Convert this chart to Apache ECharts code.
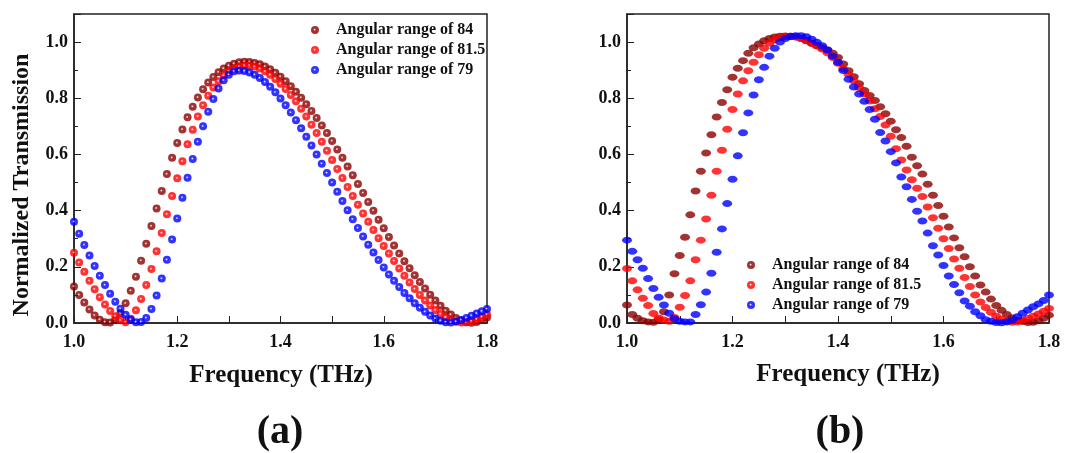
<!DOCTYPE html>
<html>
<head>
<meta charset="utf-8">
<script src="https://cdn.jsdelivr.net/npm/echarts@6/dist/echarts.min.js"></script>
<style>
  html, body { margin: 0; padding: 0; background: #fff; }
  #main { width: 1069px; height: 453px; }
</style>
</head>
<body>
<div id="main"></div>
<script>
// frequency grid (THz)
var freq = [1.00, 1.01, 1.02, 1.03, 1.04, 1.05, 1.06, 1.07, 1.08, 1.09,
  1.10, 1.11, 1.12, 1.13, 1.14, 1.15, 1.16, 1.17, 1.18, 1.19,
  1.20, 1.21, 1.22, 1.23, 1.24, 1.25, 1.26, 1.27, 1.28, 1.29,
  1.30, 1.31, 1.32, 1.33, 1.34, 1.35, 1.36, 1.37, 1.38, 1.39,
  1.40, 1.41, 1.42, 1.43, 1.44, 1.45, 1.46, 1.47, 1.48, 1.49,
  1.50, 1.51, 1.52, 1.53, 1.54, 1.55, 1.56, 1.57, 1.58, 1.59,
  1.60, 1.61, 1.62, 1.63, 1.64, 1.65, 1.66, 1.67, 1.68, 1.69,
  1.70, 1.71, 1.72, 1.73, 1.74, 1.75, 1.76, 1.77, 1.78, 1.79, 1.80];

var names = ["Angular range of 84", "Angular range of 81.5", "Angular range of 79"];

// panel (a)
var a84 = [.130, .100, .073, .048, .027, .012, .003, .002, .012, .035,
  .070, .115, .165, .222, .282, .345, .408, .470, .530, .588,
  .641, .689, .732, .770, .803, .832, .856, .876, .893, .906,
  .916, .923, .928, .930, .929, .926, .921, .913, .903, .891,
  .877, .861, .843, .823, .802, .779, .755, .730, .703, .676,
  .648, .618, .588, .557, .526, .495, .463, .431, .400, .368,
  .337, .306, .276, .247, .220, .195, .170, .146, .123, .101,
  .080, .061, .044, .030, .018, .009, .003, .001, .004, .011, .020];
var a81 = [.250, .215, .182, .150, .120, .092, .066, .043, .024, .010,
  .003, .015, .045, .085, .135, .192, .255, .320, .387, .452,
  .515, .576, .636, .688, .735, .775, .809, .838, .861, .880,
  .895, .906, .913, .917, .917, .913, .906, .896, .884, .869,
  .852, .833, .812, .789, .763, .735, .706, .676, .645, .613,
  .580, .548, .516, .484, .452, .421, .390, .360, .331, .302,
  .274, .247, .221, .194, .168, .144, .121, .100, .080, .062,
  .046, .032, .020, .011, .005, .002, .003, .007, .013, .021, .030];
var a79 = [.360, .318, .278, .240, .203, .168, .135, .104, .076, .051,
  .029, .012, .003, .004, .018, .050, .098, .158, .225, .297,
  .372, .446, .517, .584, .645, .700, .752, .797, .835, .864,
  .884, .896, .899, .897, .892, .884, .872, .858, .841, .821,
  .799, .775, .749, .722, .693, .663, .632, .600, .567, .534,
  .500, .467, .434, .401, .369, .338, .308, .279, .251, .224,
  .198, .173, .150, .128, .107, .088, .070, .054, .040, .027,
  .016, .008, .003, .002, .005, .011, .018, .026, .034, .042, .050];

// panel (b)
var b84 = [.064, .030, .017, .008, .004, .003, .012, .040, .100, .175,
  .240, .305, .385, .470, .540, .605, .670, .733, .785, .830,
  .875, .907, .934, .960, .980, .993, 1.005, 1.013, 1.018, 1.021,
  1.022, 1.021, 1.018, 1.013, 1.005, .996, .988, .980, .972, .960,
  .945, .922, .898, .877, .852, .828, .810, .792, .770, .745,
  .718, .688, .660, .629, .590, .560, .530, .494, .455, .418,
  .380, .342, .303, .268, .236, .200, .167, .135, .110, .085,
  .062, .045, .030, .018, .010, .005, .002, .003, .008, .017, .028];
var b81 = [.194, .150, .118, .088, .062, .034, .018, .011, .006, .020,
  .056, .098, .150, .225, .295, .370, .455, .540, .615, .690,
  .760, .815, .862, .898, .928, .955, .978, .996, 1.008, 1.015,
  1.020, 1.021, 1.019, 1.014, 1.006, .996, .986, .975, .962, .945,
  .925, .905, .885, .862, .838, .815, .790, .763, .735, .705,
  .665, .620, .580, .545, .510, .480, .450, .413, .375, .337,
  .300, .265, .228, .195, .162, .130, .100, .075, .055, .038,
  .024, .013, .006, .003, .004, .010, .016, .024, .032, .042, .052];
var b79 = [.295, .255, .225, .195, .158, .123, .092, .064, .035, .015,
  .006, .004, .004, .030, .065, .110, .177, .252, .335, .425,
  .512, .595, .677, .748, .812, .866, .910, .950, .978, 1.000,
  1.013, 1.020, 1.023, 1.023, 1.019, 1.010, .999, .987, .972, .950,
  .928, .899, .868, .840, .815, .789, .760, .725, .678, .648,
  .610, .570, .520, .485, .440, .398, .363, .320, .275, .242,
  .205, .167, .137, .108, .078, .060, .040, .026, .012, .006,
  .002, .001, .004, .010, .022, .035, .046, .058, .068, .080, .100];

var colors = ["#8b0000", "#ff0000", "#0000ff"];
var serif = "Liberation Serif";

function pairs(ys) {
  return freq.map(function (f, i) { return [f, ys[i]]; });
}

function ball(c) {
  return {
    type: "radial", x: 0.45, y: 0.45, r: 0.6,
    colorStops: [
      { offset: 0, color: "#ffffff" },
      { offset: 0.3, color: c },
      { offset: 1, color: c }
    ]
  };
}

function xAx(idx) {
  return {
    gridIndex: idx,
    type: "value",
    min: 1.0,
    max: 1.8,
    interval: 0.2,
    axisLine: { lineStyle: { color: "#222", width: 1.5 } },
    axisTick: { inside: true, length: 7, lineStyle: { color: "#222" } },
    minorTick: { show: true, splitNumber: 2, length: 7, lineStyle: { color: "#222" } },
    splitLine: { show: false },
    axisLabel: {
      margin: 10,
      color: "#111",
      fontFamily: serif,
      fontWeight: "bold",
      fontSize: 18,
      formatter: function (v) { return v.toFixed(1); }
    }
  };
}

function yAx(idx) {
  return {
    gridIndex: idx,
    type: "value",
    min: 0,
    max: 1.1,
    interval: 0.2,
    axisLine: { show: true, lineStyle: { color: "#222", width: 1.5 } },
    axisTick: { show: true, inside: true, length: 7, lineStyle: { color: "#222" } },
    minorTick: { show: true, splitNumber: 2, length: 4, lineStyle: { color: "#222" } },
    splitLine: { show: false },
    axisLabel: {
      margin: 6,
      color: "#111",
      fontFamily: serif,
      fontWeight: "bold",
      fontSize: 18,
      formatter: function (v) { return v > 1.05 ? "" : v.toFixed(1); }
    }
  };
}

function legendAt(left, top) {
  return {
    orient: "vertical",
    left: left,
    top: top,
    icon: "circle",
    itemWidth: 8,
    itemHeight: 8,
    itemGap: 4,
    data: names,
    formatter: "   {name}",
    textStyle: { fontFamily: serif, fontWeight: "bold", fontSize: 16, color: "#111" }
  };
}

var series = [];
[a84, a81, a79].forEach(function (ys, i) {
  series.push({
    name: names[i], type: "scatter", xAxisIndex: 0, yAxisIndex: 0,
    symbol: "circle", symbolSize: 8,
    itemStyle: { color: ball(colors[i]) },
    data: pairs(ys)
  });
});
[b84, b81, b79].forEach(function (ys, i) {
  series.push({
    name: names[i], type: "scatter", xAxisIndex: 1, yAxisIndex: 1,
    symbol: "circle", symbolSize: [10, 7],
    itemStyle: { color: colors[i] },
    data: pairs(ys)
  });
});

var chart = echarts.init(document.getElementById("main"));
var option = {
  backgroundColor: "#fff",
  animation: false,
  grid: [
    { left: 74, top: 14, width: 413, height: 309, show: true, borderColor: "#222", borderWidth: 1.5 },
    { left: 627, top: 14, width: 422, height: 309, show: true, borderColor: "#222", borderWidth: 1.5 }
  ],
  xAxis: [xAx(0), xAx(1)],
  yAxis: [yAx(0), yAx(1)],
  legend: [legendAt(306, 17), legendAt(742, 252)],
  graphic: [
    { type: "text", x: 22, y: 185, rotation: Math.PI / 2,
      style: { text: "Normalized Transmission", align: "center", verticalAlign: "middle",
        fontFamily: serif, fontWeight: "bold", fontSize: 24, fill: "#111" } },
    { type: "text", x: 281, y: 376,
      style: { text: "Frequency (THz)", align: "center", verticalAlign: "middle",
        fontFamily: serif, fontWeight: "bold", fontSize: 25, fill: "#111" } },
    { type: "text", x: 848, y: 375,
      style: { text: "Frequency (THz)", align: "center", verticalAlign: "middle",
        fontFamily: serif, fontWeight: "bold", fontSize: 25, fill: "#111" } },
    { type: "text", x: 280, y: 433,
      style: { text: "(a)", align: "center", verticalAlign: "middle",
        fontFamily: serif, fontWeight: "bold", fontSize: 40, fill: "#111" } },
    { type: "text", x: 840, y: 433,
      style: { text: "(b)", align: "center", verticalAlign: "middle",
        fontFamily: serif, fontWeight: "bold", fontSize: 40, fill: "#111" } }
  ],
  series: series
};
option && chart.setOption(option);
</script>
</body>
</html>
